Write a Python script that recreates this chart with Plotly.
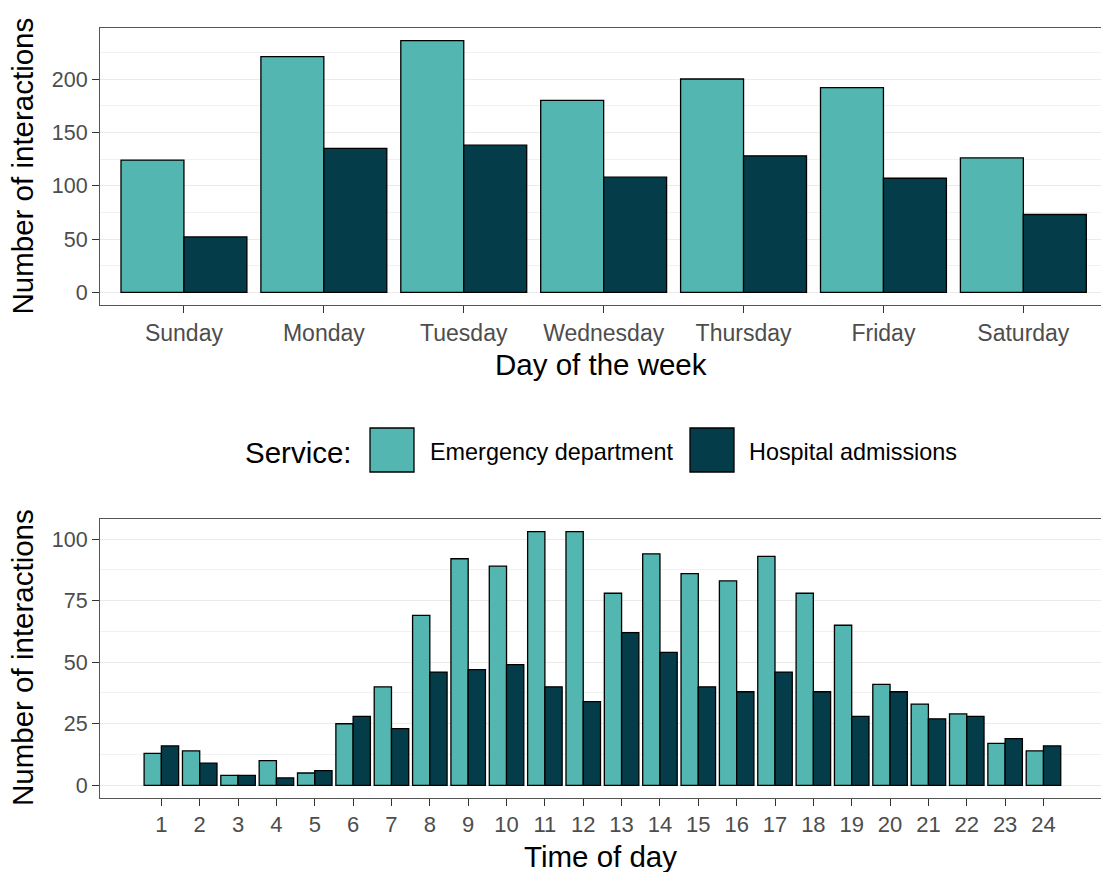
import plotly.graph_objects as go

# ---- data ----
days = ["Sunday", "Monday", "Tuesday", "Wednesday", "Thursday", "Friday", "Saturday"]
day_ed = [124, 221, 236, 180, 200, 192, 126]
day_ha = [52, 135, 138, 108, 128, 107, 73]

hours = list(range(1, 25))
hour_labels = [str(h) for h in hours]
hour_ed = [13, 14, 4, 10, 5, 25, 40, 69, 92, 89, 103, 103,
           78, 94, 86, 83, 93, 78, 65, 41, 33, 29, 17, 14]
hour_ha = [16, 9, 4, 3, 6, 28, 23, 46, 47, 49, 40, 34,
           62, 54, 40, 38, 46, 38, 28, 38, 27, 28, 19, 16]

series_names = ["Emergency department", "Hospital admissions"]
series_colors = ["#53b6b0", "#053c4a"]

W, H = 1101, 872
FONT = "Liberation Sans, Arial, sans-serif"
TICK_COL = "#4d4d4d"
GRID = "#ebebeb"
BORDER = "#555555"


def py(px):
    return 1 - px / H


def pxx(px):
    return px / W


fig = go.Figure()

day_idx = list(range(len(days)))
for name, vals, col in zip(series_names, [day_ed, day_ha], series_colors):
    fig.add_trace(go.Bar(x=day_idx, y=vals, name=name,
                         marker=dict(color=col, line=dict(color="#000000", width=1.3)),
                         xaxis="x", yaxis="y", showlegend=False))
for name, vals, col in zip(series_names, [hour_ed, hour_ha], series_colors):
    fig.add_trace(go.Bar(x=hours, y=vals, name=name,
                         marker=dict(color=col, line=dict(color="#000000", width=1.3)),
                         xaxis="x2", yaxis="y2", showlegend=False))

axis_common = dict(
    showline=True, mirror=True, linecolor=BORDER, linewidth=1,
    ticks="outside", ticklen=7, tickcolor="#333333", tickwidth=1,
    zeroline=False,
)
xtickfont = dict(family=FONT, size=23, color=TICK_COL)
x2tickfont = dict(family=FONT, size=22, color=TICK_COL)
ytickfont = dict(family=FONT, size=21.5, color=TICK_COL)

fig.update_layout(
    width=W, height=H,
    margin=dict(l=0, r=0, t=0, b=0),
    paper_bgcolor="white", plot_bgcolor="white",
    barmode="group", bargap=0.1, bargroupgap=0,
    font=dict(family=FONT),
    xaxis=dict(domain=[pxx(100), 1], anchor="y", range=[-0.6, 6.555],
               tickvals=day_idx, ticktext=days, showgrid=False, tickfont=xtickfont, **axis_common),
    yaxis=dict(domain=[py(305), py(28)], anchor="x", range=[-11.8, 247.8],
               tickvals=[0, 50, 100, 150, 200], showgrid=True, gridcolor=GRID, gridwidth=1.2,
               minor=dict(tickvals=[25, 75, 125, 175, 225], showgrid=True, gridcolor="#f2f2f2",
                          gridwidth=0.7, ticks=""),
               tickfont=ytickfont, **axis_common),
    xaxis2=dict(domain=[pxx(100), 1], anchor="y2", range=[-0.6, 25.5],
                tickvals=hours, ticktext=hour_labels, showgrid=False, tickfont=x2tickfont, **axis_common),
    yaxis2=dict(domain=[py(798), py(519)], anchor="x2", range=[-5.15, 108.15],
                tickvals=[0, 25, 50, 75, 100], showgrid=True, gridcolor=GRID, gridwidth=1.2,
                minor=dict(tickvals=[12.5, 37.5, 62.5, 87.5], showgrid=True, gridcolor="#f2f2f2",
                           gridwidth=0.7, ticks=""),
                tickfont=ytickfont, **axis_common),
)

annotations = []
title_font = dict(family=FONT, size=29.5, color="#000000")
annotations.append(dict(text="Day of the week", x=(pxx(100) + 1) / 2, y=py(364), xref="paper", yref="paper",
                        xanchor="center", yanchor="middle", showarrow=False, font=title_font))
annotations.append(dict(text="Time of day", x=(pxx(100) + 1) / 2, y=py(856), xref="paper", yref="paper",
                        xanchor="center", yanchor="middle", showarrow=False, font=title_font))
annotations.append(dict(text="Number of interactions", x=pxx(22), y=py(166.5), xref="paper", yref="paper",
                        xanchor="center", yanchor="middle", textangle=-90, showarrow=False, font=title_font))
annotations.append(dict(text="Number of interactions", x=pxx(22), y=py(658), xref="paper", yref="paper",
                        xanchor="center", yanchor="middle", textangle=-90, showarrow=False, font=title_font))

# legend (manual, large keys like ggplot)
annotations.append(dict(text="Service:", x=pxx(354), y=py(452), xref="paper", yref="paper",
                        xanchor="right", yanchor="middle", showarrow=False, font=title_font))
key_lefts = [370, 690]
label_lefts = [428, 747]
shapes = []
for name, col, kl, ll in zip(series_names, series_colors, key_lefts, label_lefts):
    shapes.append(dict(type="rect", xref="paper", yref="paper", x0=pxx(kl), x1=pxx(kl + 44),
                       y0=py(472), y1=py(428), fillcolor=col, line=dict(color="#000000", width=1.3)))
    annotations.append(dict(text=name, x=pxx(ll), y=py(452), xref="paper", yref="paper",
                            xanchor="left", yanchor="middle", showarrow=False,
                            font=dict(family=FONT, size=23.4, color="#000000")))

fig.update_layout(annotations=annotations, shapes=shapes)

fig.write_html("out.html", config={"displayModeBar": False},
               post_script="document.body.style.margin='0px';")
